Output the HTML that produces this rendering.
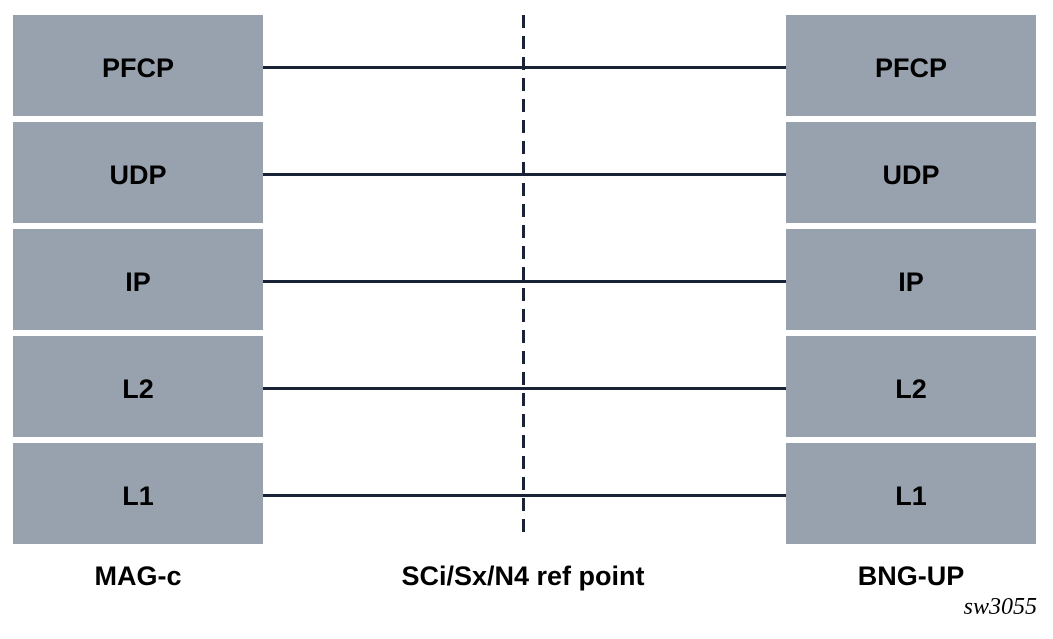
<!DOCTYPE html>
<html><head><meta charset="utf-8"><style>
body{margin:0;width:1053px;height:639px;background:#fff;overflow:hidden;position:relative;font-family:"Liberation Sans",Arial,sans-serif}
.box{position:absolute;width:250px;height:101px;background:#98a2ae;display:flex;align-items:center;justify-content:center;font-weight:bold;font-size:27px;color:#000;padding-top:5px;box-sizing:border-box}
.ln{position:absolute;left:263px;width:523px;height:3px;background:#1a2238}
.lbl{position:absolute;top:561px;font-weight:bold;font-size:27px;text-align:center}
</style></head><body>
<div id="root"></div>
<svg style="position:absolute;left:0;top:0" width="1053" height="639"><line x1="523.5" y1="15" x2="523.5" y2="536" stroke="#1a2238" stroke-width="3" stroke-dasharray="13,8"/></svg>
<div class="lbl" style="left:13px;width:250px">MAG-c</div>
<div class="lbl" style="left:323px;width:400px">SCi/Sx/N4 ref point</div>
<div class="lbl" style="left:786px;width:250px">BNG-UP</div>
<div style="position:absolute;right:16px;top:594px;font-family:'Liberation Serif',serif;font-style:italic;font-size:24px">sw3055</div>
<script>
const layers=["PFCP","UDP","IP","L2","L1"];
const root=document.getElementById('root');
layers.forEach((t,i)=>{
 const top=15+i*107;
 const a=document.createElement('div');a.className='box';a.style.left='13px';a.style.top=top+'px';a.textContent=t;
 
 
 const b=document.createElement('div');b.className='box';b.style.left='786px';b.style.top=top+'px';b.textContent=t;
 
 
 const l=document.createElement('div');l.className='ln';l.style.top=(top+51)+'px';
 
 
 root.appendChild(a);root.appendChild(b);root.appendChild(l);
});
</script>
</body></html>
